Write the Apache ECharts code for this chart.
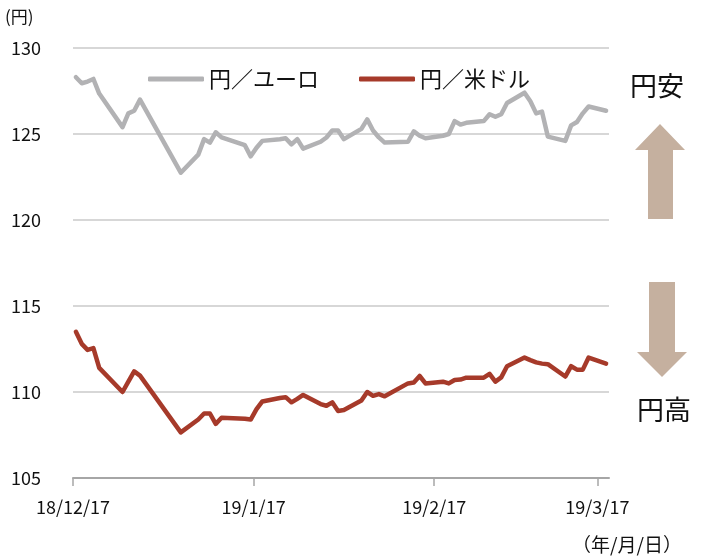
<!DOCTYPE html>
<html>
<head>
<meta charset="utf-8">
<script src="https://cdn.jsdelivr.net/npm/echarts@6/dist/echarts.min.js"></script>
<style>
  html, body { margin: 0; padding: 0; background: #fff; }
  #chart { width: 708px; height: 559px; }
</style>
</head>
<body>
<div id="chart"></div>
<script>
// business days (Tokyo), 2018/12/17 - 2019/3/18
const dates = [
  '2018-12-17', '2018-12-18', '2018-12-19', '2018-12-20', '2018-12-21',
  '2018-12-25', '2018-12-26', '2018-12-27', '2018-12-28',
  '2019-01-04', '2019-01-07', '2019-01-08', '2019-01-09', '2019-01-10', '2019-01-11',
  '2019-01-15', '2019-01-16', '2019-01-17', '2019-01-18',
  '2019-01-21', '2019-01-22', '2019-01-23', '2019-01-24', '2019-01-25',
  '2019-01-28', '2019-01-29', '2019-01-30', '2019-01-31', '2019-02-01',
  '2019-02-04', '2019-02-05', '2019-02-06', '2019-02-07', '2019-02-08',
  '2019-02-12', '2019-02-13', '2019-02-14', '2019-02-15',
  '2019-02-18', '2019-02-19', '2019-02-20', '2019-02-21', '2019-02-22',
  '2019-02-25', '2019-02-26', '2019-02-27', '2019-02-28', '2019-03-01',
  '2019-03-04', '2019-03-05', '2019-03-06', '2019-03-07', '2019-03-08',
  '2019-03-11', '2019-03-12', '2019-03-13', '2019-03-14', '2019-03-15',
  '2019-03-18'
];

const eurJpy = [
  128.3, 127.95, 128.05, 128.2, 127.35,
  125.4, 126.2, 126.35, 127.0,
  122.75, 123.8, 124.7, 124.5, 125.1, 124.8,
  124.35, 123.7, 124.2, 124.6,
  124.7, 124.75, 124.4, 124.7, 124.15,
  124.55, 124.8, 125.2, 125.2, 124.7,
  125.3, 125.85, 125.2, 124.8, 124.5,
  124.55, 125.15, 124.9, 124.75,
  124.9, 125.0, 125.75, 125.55, 125.65,
  125.75, 126.15, 126.0, 126.15, 126.8,
  127.4, 126.9, 126.2, 126.3, 124.85,
  124.6, 125.5, 125.7, 126.2, 126.6,
  126.35
];

const usdJpy = [
  113.5, 112.8, 112.45, 112.55, 111.4,
  110.0, 110.6, 111.2, 110.95,
  107.65, 108.4, 108.75, 108.75, 108.15, 108.5,
  108.45, 108.4, 109.0, 109.45,
  109.65, 109.7, 109.4, 109.6, 109.83,
  109.3, 109.2, 109.4, 108.9, 108.95,
  109.5, 110.0, 109.78, 109.88, 109.75,
  110.5, 110.55, 110.93, 110.5,
  110.6, 110.5, 110.7, 110.72, 110.83,
  110.83, 111.05, 110.6, 110.85, 111.5,
  112.0, 111.85, 111.72, 111.65, 111.62,
  110.9, 111.5, 111.3, 111.3, 112.0,
  111.65
];

const tickDates = ['2018-12-17', '2019-01-17', '2019-02-17', '2019-03-17'];
const axisStart = '2018-12-17';
const axisEnd = '2019-03-19';

const seriesNames = ['円／ユーロ', '円／米ドル'];
const seriesColors = ['#b2b2b4', '#a63a2a'];

const FONT = '"Noto Sans CJK JP", "Noto Sans", sans-serif';

function toTime(s, hour) {
  const p = s.split('-').map(Number);
  return new Date(p[0], p[1] - 1, p[2], hour || 0).getTime();
}

// points sit in the middle of each day, ticks at day boundaries
const toPoints = vals => dates.map((d, i) => [toTime(d, 12), vals[i]]);
const ticks = tickDates.map(d => toTime(d));

const chart = echarts.init(document.getElementById('chart'));

chart.setOption({
  animation: false,
  textStyle: { fontFamily: FONT },
  grid: { left: 73, right: 99, top: 48, bottom: 81 },
  legend: {
    left: 143,
    top: 63,
    icon: 'roundRect',
    itemWidth: 56,
    itemHeight: 5,
    itemGap: 40,
    textStyle: { fontSize: 22, color: '#111', fontFamily: FONT },
    data: seriesNames
  },
  xAxis: {
    type: 'value',
    min: toTime(axisStart),
    max: toTime(axisEnd),
    splitLine: { show: false },
    axisLine: { lineStyle: { color: '#a6a6a6', width: 2 } },
    axisTick: {
      customValues: ticks,
      length: 8,
      lineStyle: { color: '#a6a6a6', width: 1.5 }
    },
    axisLabel: {
      customValues: ticks,
      margin: 20,
      fontSize: 18,
      color: '#111',
      fontFamily: FONT,
      formatter: val => {
        const d = new Date(val);
        return (d.getFullYear() % 100) + '/' + (d.getMonth() + 1) + '/' + d.getDate();
      }
    }
  },
  yAxis: {
    type: 'value',
    min: 105,
    max: 130,
    interval: 5,
    axisLine: { show: false },
    axisTick: { show: false },
    splitLine: { lineStyle: { color: '#cacaca', width: 1.5 } },
    axisLabel: { fontSize: 18, color: '#111', margin: 32, fontFamily: FONT }
  },
  series: [
    {
      name: seriesNames[0],
      type: 'line',
      symbol: 'none',
      data: toPoints(eurJpy),
      lineStyle: { color: seriesColors[0], width: 4.5, cap: 'round', join: 'round' },
      itemStyle: { color: seriesColors[0] }
    },
    {
      name: seriesNames[1],
      type: 'line',
      symbol: 'none',
      data: toPoints(usdJpy),
      lineStyle: { color: seriesColors[1], width: 4.5, cap: 'round', join: 'round' },
      itemStyle: { color: seriesColors[1] }
    }
  ],
  graphic: [
    {
      type: 'text', left: 5, top: 8,
      style: { text: '(円)', fontSize: 17, fill: '#111', fontFamily: FONT }
    },
    {
      type: 'text', left: 572, top: 535,
      style: { text: '（年/月/日）', fontSize: 19, fill: '#111', fontFamily: FONT }
    },
    {
      type: 'text', x: 657, y: 86,
      style: { text: '円安', fontSize: 27, fill: '#111', fontFamily: FONT, align: 'center', verticalAlign: 'middle' }
    },
    {
      type: 'text', x: 664, y: 410,
      style: { text: '円高', fontSize: 27, fill: '#111', fontFamily: FONT, align: 'center', verticalAlign: 'middle' }
    },
    {
      type: 'polygon',
      shape: { points: [[660, 124], [685, 150], [673, 150], [673, 219], [648, 219], [648, 150], [635, 150]] },
      style: { fill: '#c5b09f' }
    },
    {
      type: 'polygon',
      shape: { points: [[649, 282], [675, 282], [675, 352], [687, 352], [662, 377], [637, 352], [649, 352]] },
      style: { fill: '#c5b09f' }
    }
  ]
});
</script>
</body>
</html>
